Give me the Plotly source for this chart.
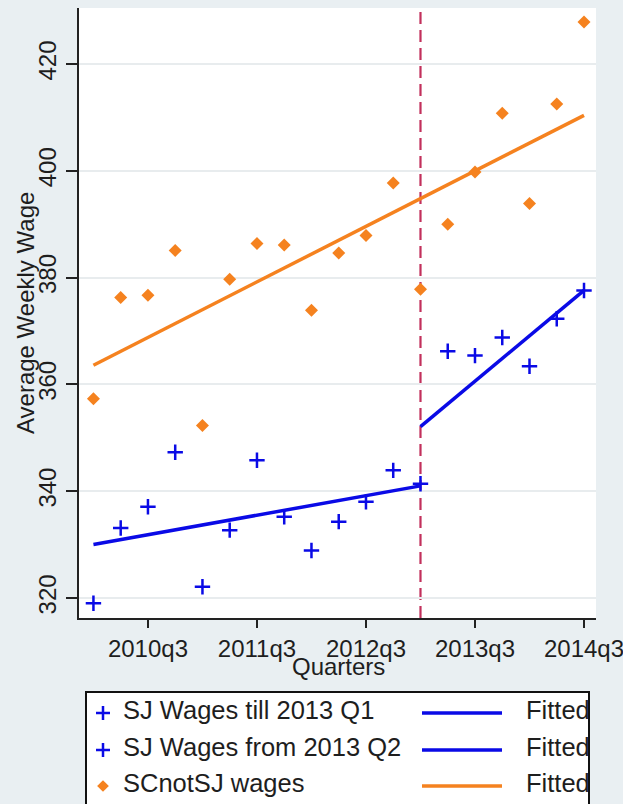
import plotly.graph_objects as go

# Quarterly categories shown on the x axis
quarters = ["2010q1", "2010q2", "2010q3", "2010q4",
            "2011q1", "2011q2", "2011q3", "2011q4",
            "2012q1", "2012q2", "2012q3", "2012q4",
            "2013q1", "2013q2", "2013q3", "2013q4",
            "2014q1", "2014q2", "2014q3"]
tick_quarters = ["2010q3", "2011q3", "2012q3", "2013q3", "2014q3"]
y_ticks = [320, 340, 360, 380, 400, 420]
break_quarter = "2013q1"

# SJ wages before and after the break
sj_till_quarters = quarters[:13]
sj_wages_till = [319.0, 333.1, 337.1, 347.3, 322.1, 332.7, 345.8,
                 335.2, 328.9, 334.3, 338.0, 343.9, 341.4]
sj_from_quarters = quarters[13:]
sj_wages_from = [366.2, 365.4, 368.8, 363.4, 372.3, 377.6]

# SC (not SJ) wages, all quarters
sc_wages = [357.3, 376.3, 376.7, 385.1, 352.3, 379.7, 386.4, 386.1,
            373.9, 384.6, 387.9, 397.7, 377.8, 390.0, 399.8, 410.8,
            393.9, 412.5, 427.9]

# Fitted values at the ends of each linear fit
fit_till_quarters = ["2010q1", "2013q1"]
fit_till = [330.0, 341.0]
fit_from_quarters = ["2013q1", "2014q3"]
fit_from = [352.1, 377.6]
fit_sc_quarters = ["2010q1", "2014q3"]
fit_sc = [363.6, 410.4]

legend_labels = ["SJ Wages till 2013 Q1", "SJ Wages from 2013 Q2", "SCnotSJ wages"]
fit_label = "Fitted"

W, H = 623, 804
BLUE = "#0a0ae6"
ORANGE = "#f5821f"
BREAK = "#c2305c"
BG = "#e9eff2"
TXT = "#1e1e1e"
FONT = "Liberation Sans, Arial, sans-serif"

# plot area in pixels
PL, PR, PT, PB = 79, 596, 8, 618


def px_x(v):
    return v / W


def px_y(v):
    return (H - v) / H


fig = go.Figure()

cross = dict(symbol="cross-thin-open", size=11, color=BLUE, line=dict(width=2.5, color=BLUE))
diamond = dict(symbol="diamond", size=10, color=ORANGE, line=dict(width=0))

fig.add_trace(go.Scatter(x=sj_till_quarters, y=sj_wages_till, mode="markers", marker=cross))
fig.add_trace(go.Scatter(x=fit_till_quarters, y=fit_till, mode="lines",
                         line=dict(color=BLUE, width=3.5)))
fig.add_trace(go.Scatter(x=sj_from_quarters, y=sj_wages_from, mode="markers", marker=cross))
fig.add_trace(go.Scatter(x=fit_from_quarters, y=fit_from, mode="lines",
                         line=dict(color=BLUE, width=3.5)))
fig.add_trace(go.Scatter(x=quarters, y=sc_wages, mode="markers", marker=diamond))
fig.add_trace(go.Scatter(x=fit_sc_quarters, y=fit_sc, mode="lines",
                         line=dict(color=ORANGE, width=3.5)))

# vertical break line
bi = quarters.index(break_quarter)
fig.add_shape(type="line", xref="x", yref="y domain", x0=bi, x1=bi, y0=0, y1=1,
              line=dict(color=BREAK, width=2.2, dash="12px,6px"), layer="below")

# ---- legend box drawn on its own pixel-scaled axes ----
LL, LR, LT = 87, 588, 693
rows_y = [713, 750, 786]
mark_x, line_x0, line_x1, text_x, fit_text_x = 103, 422, 502, 123, 526
leg_symbols = [cross, cross, diamond]
leg_colors = [BLUE, BLUE, ORANGE]
for i, lab in enumerate(legend_labels):
    ry = rows_y[i]
    fig.add_trace(go.Scatter(x=[mark_x], y=[ry], mode="markers",
                             marker={**leg_symbols[i], "size": leg_symbols[i]["size"] - 1},
                             xaxis="x2", yaxis="y2"))
    fig.add_trace(go.Scatter(x=[line_x0, line_x1], y=[ry, ry], mode="lines",
                             line=dict(color=leg_colors[i], width=3.5),
                             xaxis="x2", yaxis="y2"))
    fig.add_trace(go.Scatter(x=[text_x], y=[ry], mode="text", text=[lab],
                             textposition="middle right",
                             textfont=dict(family=FONT, size=25.5, color=TXT),
                             xaxis="x2", yaxis="y2", cliponaxis=True))
    fig.add_trace(go.Scatter(x=[fit_text_x], y=[ry], mode="text", text=[fit_label],
                             textposition="middle right",
                             textfont=dict(family=FONT, size=25.5, color=TXT),
                             xaxis="x2", yaxis="y2", cliponaxis=True))

fig.update_layout(
    width=W, height=H,
    margin=dict(l=0, r=0, t=0, b=0, autoexpand=False),
    paper_bgcolor=BG, plot_bgcolor="white",
    showlegend=False,
    font=dict(family=FONT, color=TXT, size=24),
    xaxis=dict(
        domain=[px_x(PL), px_x(PR)],
        type="category", categoryorder="array", categoryarray=quarters,
        range=[-0.53, 18.44],
        tickmode="array", tickvals=tick_quarters, ticktext=tick_quarters,
        ticks="outside", ticklen=8, tickwidth=2, tickcolor="#222",
        showline=True, linecolor="#222", linewidth=2,
        showgrid=False, zeroline=False, automargin=False,
        tickfont=dict(size=24, color=TXT),
        anchor="y",
    ),
    yaxis=dict(
        domain=[px_y(PB), px_y(PT)],
        range=[316.25, 430.5],
        tickmode="array", tickvals=y_ticks,
        tickangle=-90,
        ticks="outside", ticklen=11, tickwidth=2, tickcolor="#222",
        showline=True, linecolor="#222", linewidth=2,
        showgrid=True, gridcolor="#e8ecee", gridwidth=1.5,
        zeroline=False, automargin=False,
        tickfont=dict(size=24, color=TXT),
        anchor="x",
    ),
    xaxis2=dict(domain=[px_x(LL), px_x(LR)], range=[LL, LR], anchor="y2",
                showline=True, mirror=True, linecolor="#111", linewidth=1.5,
                showgrid=False, zeroline=False, showticklabels=False, ticks="",
                automargin=False),
    yaxis2=dict(domain=[0, px_y(LT)], range=[H, LT], anchor="x2",
                showline=True, mirror=True, linecolor="#111", linewidth=1.5,
                showgrid=False, zeroline=False, showticklabels=False, ticks="",
                automargin=False),
    annotations=[
        dict(text="Average Weekly Wage", xref="paper", yref="paper",
             x=px_x(25), y=px_y(313), textangle=-90, showarrow=False,
             xanchor="center", yanchor="middle", font=dict(size=24, color=TXT)),
        dict(text="Quarters", xref="paper", yref="paper",
             x=px_x(338), y=px_y(666), showarrow=False,
             xanchor="center", yanchor="middle", font=dict(size=24, color=TXT)),
    ],
)

fig.write_html("out.html")
